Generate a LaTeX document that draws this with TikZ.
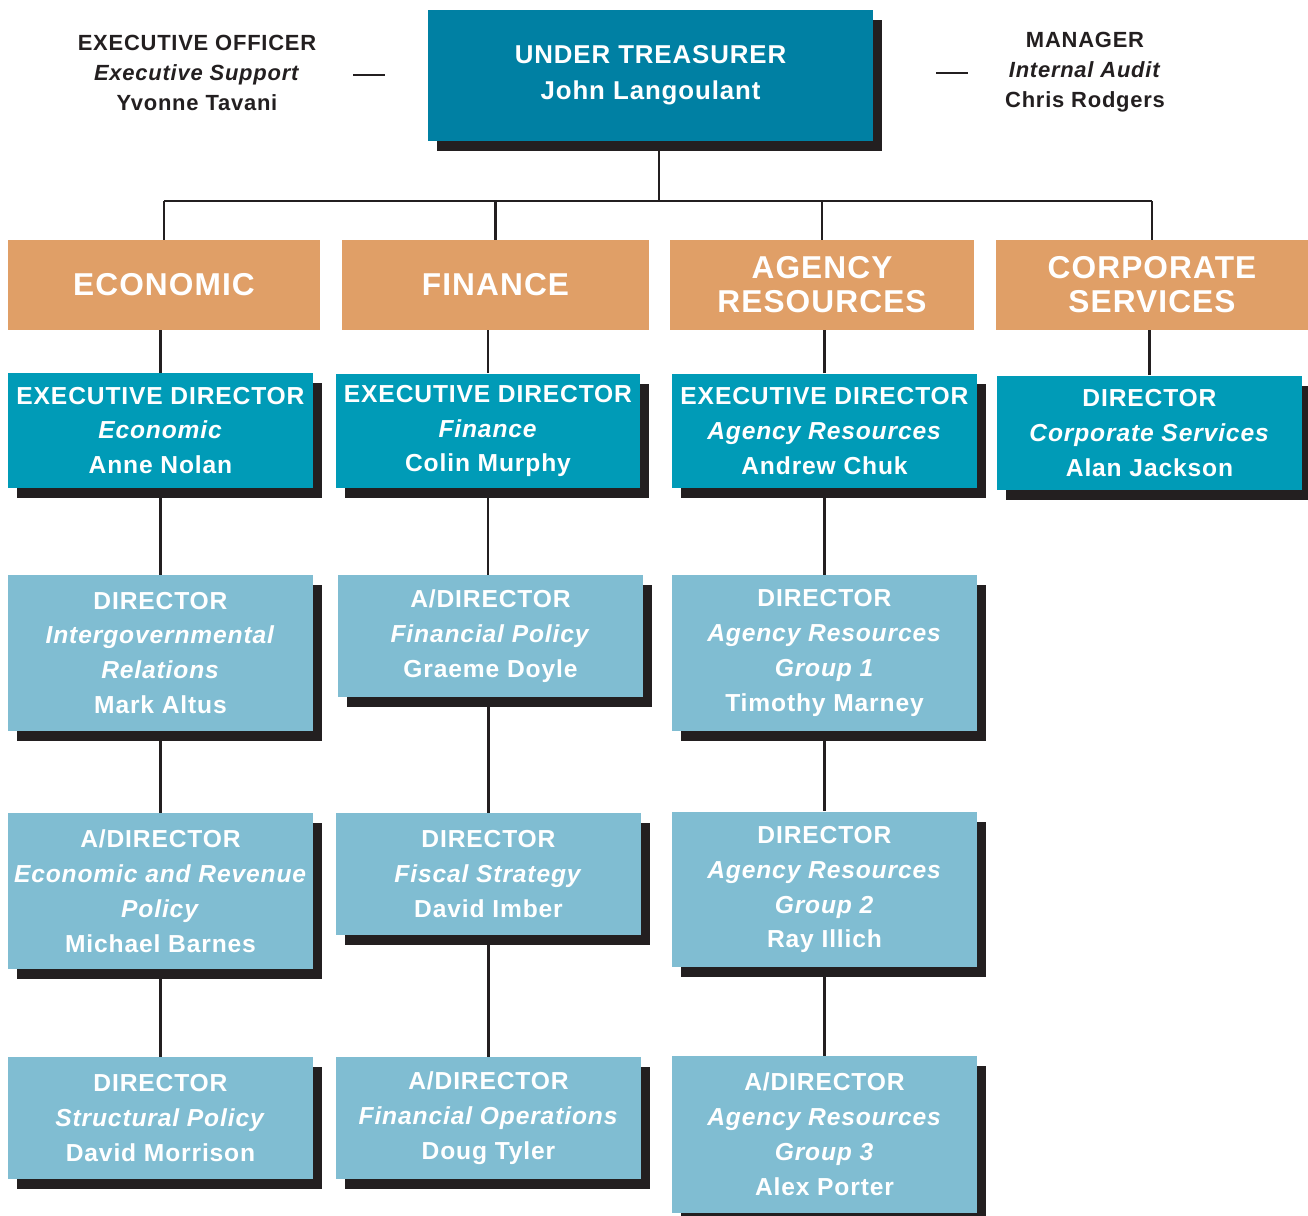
\documentclass[tikz,border=0pt]{standalone}
\usepackage{fontspec}
\setmainfont{Liberation Sans}[LetterSpace=3.5]
\usetikzlibrary{positioning,shadows}
\definecolor{utTeal}{RGB}{0,128,163}
\definecolor{edTeal}{RGB}{0,155,183}
\definecolor{dirBlue}{RGB}{128,189,210}
\definecolor{divOrange}{RGB}{224,159,103}
\definecolor{inkDark}{RGB}{35,31,32}
\tikzset{
  boxshadow/.style={drop shadow={shadow xshift=0.18cm, shadow yshift=-0.2cm, fill=inkDark, opacity=1}},
  topbox/.style={boxshadow, fill=utTeal, text=white, align=center, minimum width=8.9cm, minimum height=2.62cm,
    font=\fontsize{14.7}{20.5}\selectfont\bfseries},
  divbox/.style={fill=divOrange, text=white, align=center, minimum height=1.8cm,
    font=\fontsize{18}{19.4}\selectfont\bfseries},
  execbox/.style={boxshadow, fill=edTeal, text=white, align=center, minimum width=6.1cm, minimum height=2.3cm,
    inner sep=1pt, font=\fontsize{14}{19.9}\selectfont\bfseries},
  dirbox/.style={boxshadow, fill=dirBlue, text=white, align=center, minimum width=6.1cm, minimum height=#1,
    inner sep=1pt, font=\fontsize{14}{19.9}\selectfont\bfseries},
  dirbox/.default=2.44cm,
  sidetext/.style={text=inkDark, align=center, font=\fontsize{12.5}{17}\selectfont\bfseries},
  link/.style={line width=1.5pt, inkDark},
  sidedash/.style={line width=1.6pt, inkDark},
}

\begin{document}
\begin{tikzpicture}[x=0.02cm, y=-0.02cm]
    \useasboundingbox (0,0) rectangle (1308,1216);
    % --- top: under treasurer and side offices ---
    \node[topbox] (ut) at (650.5,75.5) {UNDER TREASURER\\John Langoulant};
    \node[sidetext] (eo) at (197,73) {EXECUTIVE OFFICER\\\textit{Executive Support}\\Yvonne Tavani};
    \node[sidetext] (mgr) at (1085,72) {MANAGER\\\textit{Internal Audit}\\Chris Rodgers};
    \coordinate (eodash) at (353,75);
    \coordinate (mgrdash) at (936,73);
    \draw[sidedash] (eodash) -- ++(32,0);
    \draw[sidedash] (mgrdash) -- ++(32,0);
    % --- divisions ---
    \node[divbox, minimum width=6.24cm] (econ) at (164,285) {ECONOMIC};
    \node[divbox, minimum width=6.14cm] (fin) at (495.5,285) {FINANCE};
    \node[divbox, minimum width=6.08cm] (agy) at (822,285) {AGENCY\\RESOURCES};
    \node[divbox, minimum width=6.24cm] (corp) at (1152,285) {CORPORATE\\SERVICES};
    \coordinate (bus) at (659,201);
    \draw[link] (ut.south -| bus) -- (bus);
    \draw[link] (econ.north |- bus) -- (corp.north |- bus);
    \foreach \d in {econ,fin,agy,corp}
      \draw[link] (\d.north) -- (\d.north |- bus);
    % --- executive directors ---
    \node[execbox] (edEcon) at (160.5,430.5) {EXECUTIVE DIRECTOR\\\textit{Economic}\\Anne Nolan};
    \node[execbox] (edFin) at (488,431) {EXECUTIVE DIRECTOR\\\textit{Finance}\\Colin Murphy};
    \node[execbox] (edAgy) at (824.5,431) {EXECUTIVE DIRECTOR\\\textit{Agency Resources}\\Andrew Chuk};
    \node[execbox] (edCorp) at (1149.5,433) {DIRECTOR\\\textit{Corporate Services}\\Alan Jackson};
    \draw[link] (edEcon.north) -- (edEcon.north |- econ.south);
    \draw[link] (edFin.north) -- (edFin.north |- fin.south);
    \draw[link] (edAgy.north) -- (edAgy.north |- agy.south);
    \draw[link] (edCorp.north) -- (edCorp.north |- corp.south);
    % --- economic column ---
    \node[dirbox=3.12cm] (dEcon1) at (160.5,653) {DIRECTOR\\\textit{Intergovernmental}\\\textit{Relations}\\Mark Altus};
    \node[dirbox=3.12cm] (dEcon2) at (160.5,891) {A/DIRECTOR\\\textit{Economic and Revenue}\\\textit{Policy}\\Michael Barnes};
    \node[dirbox] (dEcon3) at (160.5,1118) {DIRECTOR\\\textit{Structural Policy}\\David Morrison};
    \draw[link] (edEcon) -- (dEcon1);
    \draw[link] (dEcon1) -- (dEcon2);
    \draw[link] (dEcon2) -- (dEcon3);
    % --- finance column ---
    \node[dirbox] (dFin1) at (490.5,636) {A/DIRECTOR\\\textit{Financial Policy}\\Graeme Doyle};
    \node[dirbox] (dFin2) at (488.5,874) {DIRECTOR\\\textit{Fiscal Strategy}\\David Imber};
    \node[dirbox] (dFin3) at (488.5,1118) {A/DIRECTOR\\\textit{Financial Operations}\\Doug Tyler};
    \draw[link] (edFin.south) -- (edFin.south |- dFin1.north);
    \draw[link] (dFin2.north |- dFin1.south) -- (dFin2.north);
    \draw[link] (dFin2) -- (dFin3);
    % --- agency resources column ---
    \node[dirbox=3.12cm] (dAgy1) at (824.5,653) {DIRECTOR\\\textit{Agency Resources}\\\textit{Group 1}\\Timothy Marney};
    \node[dirbox=3.12cm] (dAgy2) at (824.5,889.5) {DIRECTOR\\\textit{Agency Resources}\\\textit{Group 2}\\Ray Illich};
    \node[dirbox=3.14cm] (dAgy3) at (824.5,1134.5) {A/DIRECTOR\\\textit{Agency Resources}\\\textit{Group 3}\\Alex Porter};
    \draw[link] (edAgy) -- (dAgy1);
    \draw[link] (dAgy1) -- (dAgy2);
    \draw[link] (dAgy2) -- (dAgy3);
\end{tikzpicture}
\end{document}
